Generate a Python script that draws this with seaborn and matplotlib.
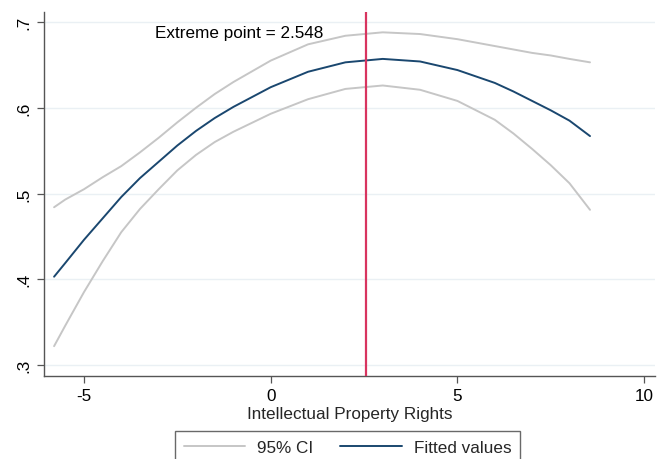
import matplotlib
matplotlib.use("Agg")
import matplotlib.pyplot as plt
import seaborn as sns
import pandas as pd

# Data
x_vals = [-5.8, -5.5, -5.0, -4.5, -4.0, -3.5, -3.0, -2.5, -2.0, -1.5, -1.0, 0.0, 1.0, 2.0, 3.0, 4.0, 5.0, 6.0, 6.5, 7.0, 7.5, 8.0, 8.55]
fitted = [0.403, 0.419, 0.446, 0.471, 0.496, 0.518, 0.537, 0.556, 0.573, 0.588, 0.601, 0.624, 0.642, 0.653, 0.657, 0.654, 0.644, 0.629, 0.619, 0.608, 0.597, 0.585, 0.567]
ci_upper = [0.484, 0.493, 0.505, 0.519, 0.532, 0.548, 0.565, 0.583, 0.600, 0.616, 0.630, 0.655, 0.674, 0.684, 0.688, 0.686, 0.680, 0.672, 0.668, 0.664, 0.661, 0.657, 0.653]
ci_lower = [0.322, 0.346, 0.385, 0.421, 0.455, 0.482, 0.505, 0.527, 0.545, 0.560, 0.572, 0.593, 0.610, 0.622, 0.626, 0.621, 0.608, 0.586, 0.570, 0.552, 0.533, 0.512, 0.481]
extreme_point = 2.548
x_ticks = [-5, 0, 5, 10]
y_ticks = [0.3, 0.4, 0.5, 0.6, 0.7]
y_tick_labels = [".3", ".4", ".5", ".6", ".7"]

df = pd.DataFrame({"x": x_vals, "fitted": fitted, "upper": ci_upper, "lower": ci_lower})

sns.set_theme(style="white")
plt.rcParams["font.family"] = ["Liberation Sans", "DejaVu Sans"]
FS = 12.3

fig = plt.figure(figsize=(6.66, 4.6), dpi=100)
ax = fig.add_axes([44 / 666, 83 / 460, 611 / 666, 364 / 460])

gray = "#c6c6c6"
navy = "#1a476f"

sns.lineplot(data=df, x="x", y="upper", ax=ax, color=gray, linewidth=1.4, label="95% CI")
sns.lineplot(data=df, x="x", y="lower", ax=ax, color=gray, linewidth=1.4, label="_nolegend_")
sns.lineplot(data=df, x="x", y="fitted", ax=ax, color=navy, linewidth=1.4, label="Fitted values")

ax.axvline(extreme_point, color="#d8345f", linewidth=1.6, zorder=5)
ax.text(-3.11, 0.688, "Extreme point = 2.548", ha="left", va="center", fontsize=FS, color="black")

ax.set_xlim(-6.07, 10.29)
ax.set_ylim(0.2872, 0.7117)
ax.set_xticks(x_ticks)
ax.set_xticklabels([str(t) for t in x_ticks])
ax.set_yticks(y_ticks)
ax.set_yticklabels(y_tick_labels, rotation=90, va="center")

ax.grid(axis="y", color="#eaf0f4", linewidth=1.0)
ax.grid(axis="x", visible=False)
ax.set_axisbelow(True)

for s in ["top", "right"]:
    ax.spines[s].set_visible(False)
for s in ["left", "bottom"]:
    ax.spines[s].set_color("#555555")
    ax.spines[s].set_linewidth(1.0)

ax.tick_params(axis="both", which="major", direction="out", length=5, width=0.9,
               color="#555555", labelsize=FS, labelcolor="black", pad=4,
               left=True, bottom=True)

ax.set_xlabel("Intellectual Property Rights", fontsize=FS, labelpad=2)
ax.set_ylabel("")

ax.get_legend().remove()
handles, labels = ax.get_legend_handles_labels()
leg = fig.legend(handles, labels, loc="upper left", bbox_to_anchor=(175 / 666, 1 - 432 / 460),
                 ncol=2, frameon=True, fancybox=False, edgecolor="#444444",
                 fontsize=FS, handlelength=3.6, handletextpad=0.7, columnspacing=1.6,
                 borderpad=0.5, borderaxespad=0)
leg.get_frame().set_linewidth(1.0)

fig.savefig("out.png", dpi=100)
